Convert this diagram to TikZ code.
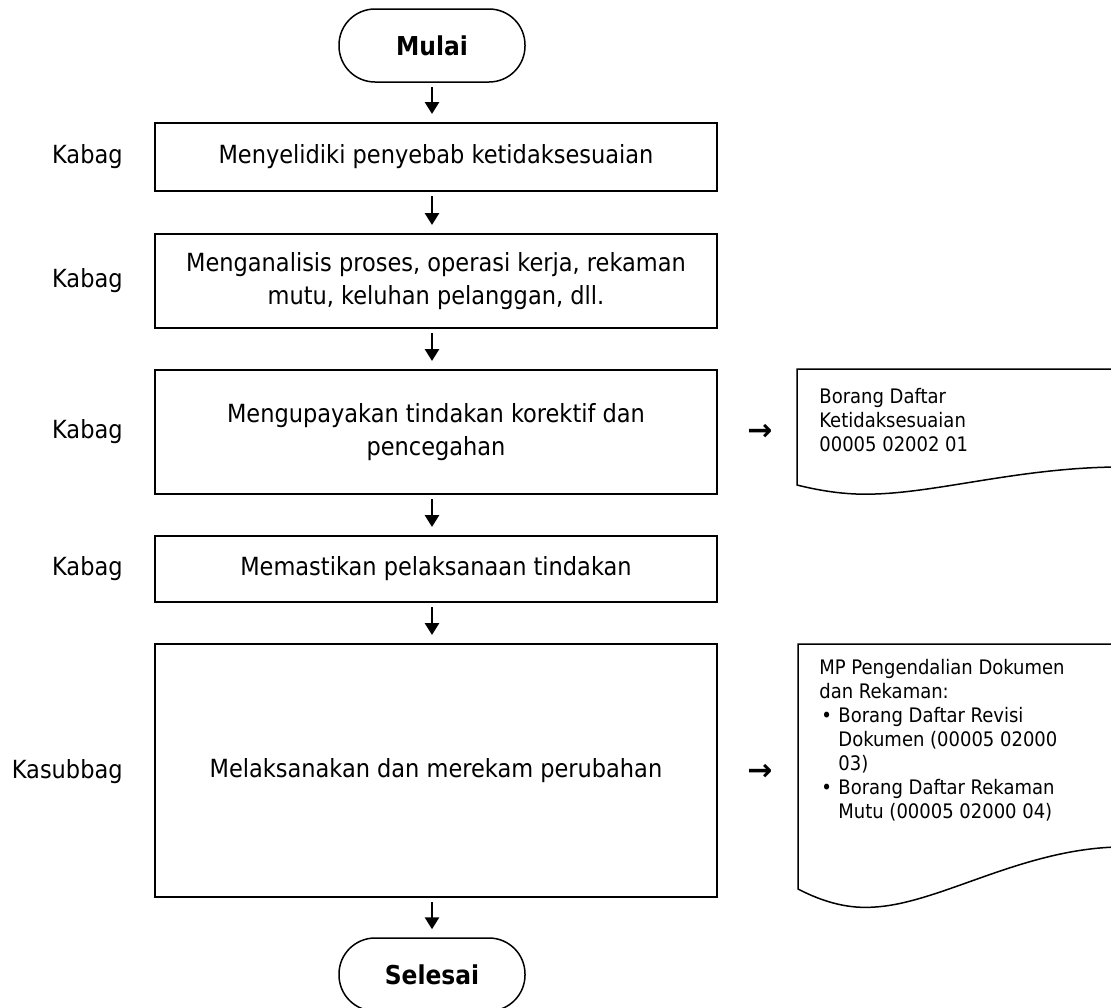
\documentclass[tikz,border=0pt]{standalone}
\usepackage{fontspec}
\setmainfont{DejaVu Sans Condensed}
\newfontfamily\symfont{DejaVu Sans}
\usetikzlibrary{arrows.meta}

\tikzset{
  box/.style={draw, line width=1pt, minimum width=281pt, inner sep=0pt,
    align=center, font=\fontsize{12.5}{16.5}\selectfont},
  term/.style={draw, line width=0.75pt, rounded corners=18pt,
    minimum width=93pt, minimum height=36.5pt, inner sep=0pt,
    font=\bfseries\fontsize{13}{16}\selectfont},
  role/.style={anchor=east, inner sep=0pt, font=\fontsize{12.5}{16.5}\selectfont},
  flow/.style={line width=1.4pt, -{Triangle[length=6pt,width=7pt]},
    shorten <=2pt, shorten >=4pt},
  doc/.style={line width=0.75pt},
  doctext/.style={anchor=west, inner sep=0pt, align=left,
    font=\fontsize{10}{12}\selectfont},
  refarrow/.style={inner sep=0pt, font=\symfont\bfseries\fontsize{15}{15}\selectfont}
}

\begin{document}
\begin{tikzpicture}[x=0.5pt, y=-0.5pt]
\useasboundingbox (0,0) rectangle (1111,1007);

% terminators
\node[term] (mulai) at (432,45.5) {Mulai};
\node[term] (selesai) at (432,974.5) {Selesai};

% process steps
\node[box, minimum height=34pt] (b1) at (436,157) {Menyelidiki penyebab ketidaksesuaian};
\node[box, minimum height=47pt] (b2) at (436,281) {Menganalisis proses, operasi kerja, rekaman\\mutu, keluhan pelanggan, dll.};
\node[box, minimum height=62pt] (b3) at (436,432) {Mengupayakan tindakan korektif dan\\pencegahan};
\node[box, minimum height=33pt] (b4) at (436,569) {Memastikan pelaksanaan tindakan};
\node[box, minimum height=126.5pt] (b5) at (436,770.5) {Melaksanakan dan merekam perubahan};

% responsible parties
\node[role] (r1) at (123,157) {Kabag};
\node[role] (r2) at (123,281) {Kabag};
\node[role] (r3) at (123,432) {Kabag};
\node[role] (r4) at (123,569) {Kabag};
\node[role] (r5) at (123,772) {Kasubbag};

% flow
\draw[flow] (mulai.south) -- (b1.north -| mulai);
\draw[flow] (b1.south -| mulai) -- (b2.north -| mulai);
\draw[flow] (b2.south -| mulai) -- (b3.north -| mulai);
\draw[flow] (b3.south -| mulai) -- (b4.north -| mulai);
\draw[flow] (b4.south -| mulai) -- (b5.north -| mulai);
\draw[flow] (b5.south -| mulai) -- (selesai.north);

% related documents
\draw[doc] (1116,369) -- (797,369) -- (797,485)
  .. controls (825,492) and (850,495) .. (875,494)
  .. controls (940,492) and (1020,468) .. (1116,467);
\node[doctext] (d1) at (819,420.5) {Borang Daftar\\Ketidaksesuaian\\00005 02002 01};

\draw[doc] (1116,644) -- (798,644) -- (798,889)
  .. controls (825,903) and (850,909) .. (875,907)
  .. controls (940,903) and (1020,850) .. (1116,847);
\node[doctext] (d2) at (819,740.5) {MP Pengendalian Dokumen\\dan Rekaman:\\
  \makebox[9.5pt][l]{\hspace{1pt}•}Borang Daftar Revisi\\
  \hspace*{9.5pt}Dokumen (00005 02000\\
  \hspace*{9.5pt}03)\\
  \makebox[9.5pt][l]{\hspace{1pt}•}Borang Daftar Rekaman\\
  \hspace*{9.5pt}Mutu (00005 02000 04)};

\node[refarrow] (a1) at (760,432) {→};
\node[refarrow] (a2) at (760,772) {→};
\end{tikzpicture}
\end{document}
